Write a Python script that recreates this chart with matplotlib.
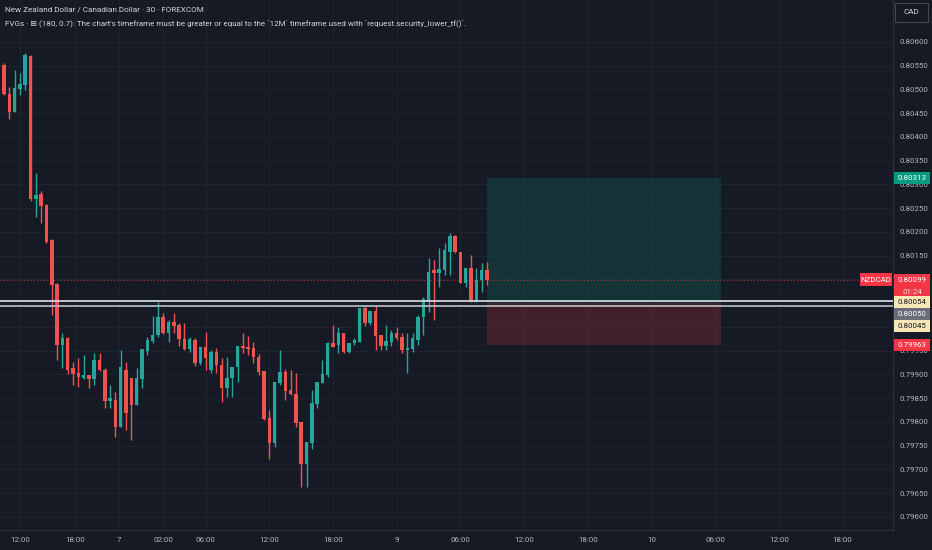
import numpy as np
import matplotlib
matplotlib.use("Agg")
import matplotlib.pyplot as plt
import matplotlib.transforms as mtransforms
from matplotlib.patches import Rectangle

plt.rcParams['font.family'] = ['Roboto', 'DejaVu Sans']

# NZDCAD 30 min candles
opens = [0.80552, 0.80491, 0.80453, 0.80501, 0.80509, 0.80571, 0.80269, 0.80280, 0.80257, 0.80183,
         0.80091, 0.79962, 0.79977, 0.79914, 0.79903, 0.79893, 0.79899, 0.79891, 0.79931, 0.79909,
         0.79844, 0.79846, 0.79789, 0.79909, 0.79893, 0.79836, 0.79891, 0.79949, 0.79971, 0.79983,
         0.80021, 0.79987, 0.80011, 0.80004, 0.79975, 0.79954, 0.79973, 0.79924, 0.79958, 0.79909,
         0.79947, 0.79920, 0.79872, 0.79893, 0.79916, 0.79960, 0.79958, 0.79956, 0.79937, 0.79907,
         0.79808, 0.79756, 0.79882, 0.79905, 0.79867, 0.79859, 0.79800, 0.79712, 0.79756, 0.79838,
         0.79882, 0.79899, 0.79966, 0.79962, 0.79987, 0.79947, 0.79966, 0.79968, 0.80040, 0.80008,
         0.80034, 0.79983, 0.79960, 0.79968, 0.79987, 0.79979, 0.79952, 0.79954, 0.79973, 0.80021,
         0.80053, 0.80120, 0.80114, 0.80120, 0.80158, 0.80192, 0.80158, 0.80093, 0.80124, 0.80053,
         0.80099, 0.80120]
highs = [0.80556, 0.80505, 0.80541, 0.80535, 0.80577, 0.80573, 0.80324, 0.80286, 0.80259, 0.80185,
         0.80093, 0.79987, 0.79979, 0.79926, 0.79935, 0.79941, 0.79899, 0.79945, 0.79945, 0.79914,
         0.79878, 0.79863, 0.79952, 0.79926, 0.79893, 0.79914, 0.79954, 0.79979, 0.80023, 0.80053,
         0.80029, 0.80015, 0.80029, 0.80008, 0.80008, 0.79979, 0.79977, 0.79958, 0.79989, 0.79952,
         0.79956, 0.79935, 0.79937, 0.79916, 0.79960, 0.79987, 0.79981, 0.79968, 0.79943, 0.79907,
         0.79825, 0.79884, 0.79952, 0.79912, 0.79909, 0.79903, 0.79800, 0.79758, 0.79867, 0.79884,
         0.79931, 0.79968, 0.80004, 0.80000, 0.79987, 0.79966, 0.79977, 0.80040, 0.80044, 0.80034,
         0.80044, 0.79983, 0.80004, 0.79994, 0.80000, 0.79987, 0.79987, 0.79987, 0.80025, 0.80063,
         0.80145, 0.80141, 0.80166, 0.80177, 0.80198, 0.80194, 0.80158, 0.80124, 0.80152, 0.80124,
         0.80135, 0.80137]
lows = [0.80488, 0.80438, 0.80453, 0.80488, 0.80499, 0.80265, 0.80232, 0.80219, 0.80177, 0.80025,
        0.79931, 0.79914, 0.79901, 0.79878, 0.79874, 0.79891, 0.79872, 0.79878, 0.79907, 0.79829,
        0.79829, 0.79768, 0.79789, 0.79783, 0.79762, 0.79836, 0.79872, 0.79941, 0.79966, 0.79979,
        0.79985, 0.79968, 0.79987, 0.79960, 0.79952, 0.79947, 0.79918, 0.79920, 0.79909, 0.79903,
        0.79903, 0.79842, 0.79853, 0.79853, 0.79884, 0.79945, 0.79941, 0.79924, 0.79899, 0.79804,
        0.79722, 0.79747, 0.79878, 0.79846, 0.79857, 0.79789, 0.79663, 0.79663, 0.79743, 0.79829,
        0.79882, 0.79895, 0.79958, 0.79945, 0.79945, 0.79945, 0.79962, 0.79968, 0.80002, 0.80004,
        0.79952, 0.79952, 0.79952, 0.79960, 0.79973, 0.79945, 0.79903, 0.79947, 0.79962, 0.79983,
        0.80032, 0.80015, 0.80084, 0.80109, 0.80109, 0.80156, 0.80093, 0.80084, 0.80053, 0.80053,
        0.80074, 0.80088]
closes = [0.80491, 0.80453, 0.80503, 0.80512, 0.80573, 0.80269, 0.80278, 0.80255, 0.80179, 0.80088,
          0.79962, 0.79977, 0.79909, 0.79901, 0.79895, 0.79899, 0.79891, 0.79931, 0.79909, 0.79844,
          0.79851, 0.79789, 0.79916, 0.79819, 0.79836, 0.79893, 0.79954, 0.79973, 0.79983, 0.80021,
          0.79987, 0.80011, 0.80002, 0.79975, 0.79954, 0.79975, 0.79924, 0.79958, 0.79935, 0.79947,
          0.79920, 0.79872, 0.79893, 0.79916, 0.79960, 0.79956, 0.79954, 0.79937, 0.79905, 0.79806,
          0.79756, 0.79884, 0.79905, 0.79865, 0.79859, 0.79798, 0.79712, 0.79758, 0.79840, 0.79884,
          0.79901, 0.79966, 0.79958, 0.79987, 0.79947, 0.79966, 0.79973, 0.80040, 0.80008, 0.80034,
          0.79981, 0.79960, 0.79971, 0.79987, 0.79977, 0.79952, 0.79956, 0.79977, 0.80021, 0.80059,
          0.80116, 0.80114, 0.80122, 0.80162, 0.80192, 0.80158, 0.80093, 0.80124, 0.80053, 0.80099,
          0.80120, 0.80099]

time_ticks = [3, 13.4, 21.7, 30, 38, 50, 62, 74, 86, 98, 110, 122, 134, 146, 158]
time_labels = ["12:00", "18:00", "7", "02:00", "06:00", "12:00", "18:00", "9",
               "06:00", "12:00", "18:00", "10", "06:00", "12:00", "18:00"]
price_ticks = [0.79600, 0.79650, 0.79700, 0.79750, 0.79800, 0.79850, 0.79900, 0.79950, 0.80000,
               0.80050, 0.80100, 0.80150, 0.80200, 0.80250, 0.80300, 0.80350, 0.80400, 0.80450,
               0.80500, 0.80550, 0.80600]
# these scale labels sit under the price badges
hidden_ticks = [0.80000, 0.80050, 0.80100]

last_price = 0.80099
entry_price = 0.80050
target_price = 0.80313
stop_price = 0.79963
level_hi = 0.80054
level_lo = 0.80045
box_from, box_to = 91, 135

BG = '#161a25'
GRID = '#1e2230'
TXT = '#b2b5be'
UP = '#26a69a'
DOWN = '#ef5350'

fig = plt.figure(figsize=(9.32, 5.5), dpi=100, facecolor=BG)
ax = fig.add_axes([0, 20 / 550, 893 / 932, 530 / 550], facecolor=BG)
ax.set_xlim(-0.75, 167.5)
ax.set_ylim(0.795726, 0.806884)

# candles
o = np.array(opens)
c = np.array(closes)
x = np.arange(len(o))
cols = np.where(c >= o, UP, DOWN)
ax.vlines(x, lows, highs, colors=cols, lw=1, zorder=3)
ax.bar(x, np.maximum(np.abs(c - o), 0.00002), bottom=np.minimum(o, c), width=0.66,
       color=cols, linewidth=0, zorder=4)

# long position tool
ax.add_patch(Rectangle((box_from, entry_price), box_to - box_from, target_price - entry_price,
                       facecolor='#089981', alpha=0.2, lw=0, zorder=2))
ax.add_patch(Rectangle((box_from, stop_price), box_to - box_from, entry_price - stop_price,
                       facecolor='#f23645', alpha=0.2, lw=0, zorder=2))

# horizontal levels
ax.axhline(level_hi, color='#d1d4dc', lw=1.3, zorder=5)
ax.axhline(level_lo, color='#b2b5be', lw=1.3, zorder=5)
ax.axhline(last_price, color='#f23645', lw=0.8, ls=(0, (1, 2)), alpha=0.7, zorder=2.5)

# axes look
ax.set_xticks(time_ticks)
ax.set_xticklabels(time_labels)
ax.set_yticks(price_ticks)
ax.set_yticklabels(["" if any(abs(p - h) < 1e-7 for h in hidden_ticks) else f"{p:.5f}"
                    for p in price_ticks])
ax.yaxis.tick_right()
ax.tick_params(axis='y', length=0, pad=5, labelsize=5.7, labelcolor=TXT)
ax.tick_params(axis='x', length=0, pad=5, labelsize=5.7, labelcolor=TXT)
ax.grid(True, color=GRID, lw=0.8)
ax.set_axisbelow(True)
for side in ('top', 'left'):
    ax.spines[side].set_visible(False)
for side in ('right', 'bottom'):
    ax.spines[side].set_color('#2a2e39')
    ax.spines[side].set_linewidth(1)

# right axis badges
px = (0.806884 - 0.795726) / 530
trans = mtransforms.blended_transform_factory(ax.transAxes, ax.transData)
bw = 36 / 893


def badge(y, text, face, color='white', x0=1.0015, w=bw, h=12):
    ax.add_patch(Rectangle((x0, y - h / 2 * px), w, h * px, transform=trans,
                           facecolor=face, lw=0, clip_on=False, zorder=10))
    ax.text(x0 + w / 2, y, text, transform=trans, ha='center', va='center',
            fontsize=5.7, color=color, clip_on=False, zorder=11)


badge(target_price, f"{target_price:.5f}", '#089981')
ax.add_patch(Rectangle((1.0015, last_price - 19 * px), bw, 25 * px, transform=trans,
                       facecolor='#f23645', lw=0, clip_on=False, zorder=10))
ax.text(1.0015 + bw / 2, last_price, f"{last_price:.5f}", transform=trans, ha='center',
        va='center', fontsize=5.7, color='white', zorder=11)
ax.text(1.0015 + bw / 2, last_price - 12 * px, "01:24", transform=trans, ha='center',
        va='center', fontsize=5.7, color='#fbd9dc', zorder=11)
badge(last_price, "NZDCAD", '#f23645', x0=1 - 33 / 893, w=32 / 893, h=13)
badge(level_hi - 1 * px, f"{level_hi:.5f}", '#f7e7b6', color='#131722')
badge(level_hi - 13 * px, f"{entry_price:.5f}", '#6a6d78')
badge(level_hi - 25 * px, f"{level_lo:.5f}", '#f7e7b6', color='#131722')
badge(stop_price, f"{stop_price:.5f}", '#f23645')

# currency button
fig.patches.append(Rectangle((895 / 932, 1 - 22 / 550), 33 / 932, 19 / 550,
                             transform=fig.transFigure, facecolor=BG, edgecolor='#434651',
                             lw=0.8))
fig.text(911.5 / 932, 1 - 12.5 / 550, "CAD", ha='center', va='center', fontsize=5.8,
         color='#d1d4dc')

# header text
fig.text(5 / 932, 1 - 10 / 550, "New Zealand Dollar / Canadian Dollar · 30 · FOREXCOM",
         ha='left', va='center', fontsize=5.9, color='#d1d4dc')
fig.text(5 / 932, 1 - 23 / 550,
         "FVGs · \u229e (180, 0.7): The chart's timeframe must be greater or equal to the "
         "`12M` timeframe used with `request.security_lower_tf()`.",
         ha='left', va='center', fontsize=5.8, color='#d1d4dc')

fig.savefig('out.png', dpi=100, facecolor=BG)
